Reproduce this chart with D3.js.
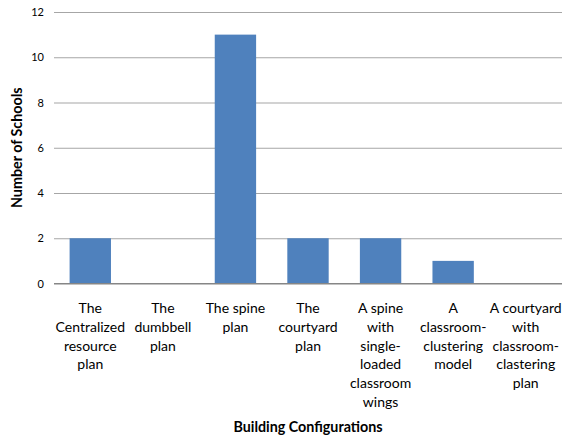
<!DOCTYPE html>
<html><head><meta charset="utf-8">
<script src="https://cdn.jsdelivr.net/npm/d3@7"></script>
<style>body{margin:0;background:#fff}svg{display:block}text{font-family:Lato,"Open Sans",sans-serif;fill:#000}</style>
</head><body><svg id="c" width="563" height="437"></svg>
<script>
const categories = ["The\nCentralized\nresource\nplan","The\ndumbbell\nplan","The spine\nplan","The\ncourtyard\nplan","A spine\nwith\nsingle-\nloaded\nclassroom\nwings","A\nclassroom-\nclustering\nmodel","A courtyard\nwith\nclassroom-\nclastering\nplan"];
const values = [2,0,11,2,2,1,0];
const yTicks = [0,2,4,6,8,10,12];
const xTitle = "Building Configurations";
const yTitle = "Number of Schools";

(function(){
const svg = d3.select("#c");
const pl = 54, pr = 562, pt = 12, pb = 283.5;
const x = d3.scaleBand().domain(categories).range([pl,pr]).paddingInner(0.43).paddingOuter(0.215);
const y = d3.scaleLinear().domain([0,12]).range([pb,pt]);

const yAxis = d3.axisLeft(y).tickValues(yTicks).tickSize(-(pr-pl)).tickPadding(10);
const ga = svg.append("g").attr("transform",`translate(${pl},0)`).call(yAxis);
ga.select(".domain").remove();
ga.selectAll(".tick line").attr("stroke",d=>d===0?"#868686":"#a6a6a6").attr("stroke-width",1.2);
ga.selectAll(".tick text").style("font-size","11px").attr("fill","#000");

svg.append("g").selectAll("rect").data(values).join("rect")
  .attr("x",(d,i)=>x(categories[i]))
  .attr("width",x.bandwidth())
  .attr("y",d=>y(d))
  .attr("height",d=>pb-y(d))
  .attr("fill","#4f81bd");

svg.append("line").attr("x1",pl).attr("x2",pr).attr("y1",y(0)).attr("y2",y(0)).attr("stroke","#868686").attr("stroke-width",1.2);

const lbl = svg.append("g").selectAll("text").data(categories).join("text")
  .attr("text-anchor","middle").style("font-size","14px")
  .attr("transform",d=>`translate(${x(d)+x.bandwidth()/2},313)`);
lbl.each(function(d){
  const t=d3.select(this);
  d.split("\n").forEach((s,i)=>t.append("tspan").attr("x",0).attr("y",i*18.8).text(s));
});

svg.append("text").attr("x",(pl+pr)/2).attr("y",431.5).attr("text-anchor","middle")
  .style("font-size","14.3px").style("font-weight","bold").text(xTitle);
svg.append("text").attr("transform",`translate(21.5,${(pt+pb)/2}) rotate(-90)`).attr("text-anchor","middle")
  .style("font-size","14.3px").style("font-weight","bold").text(yTitle);
})();
</script></body></html>
